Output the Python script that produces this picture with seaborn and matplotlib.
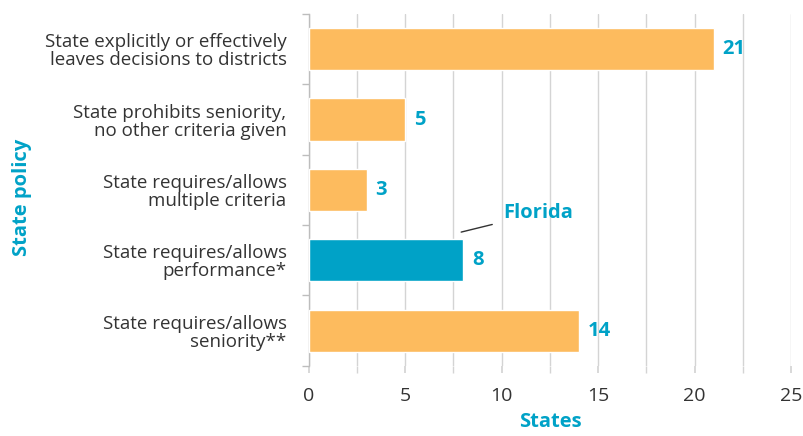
import matplotlib
matplotlib.use("Agg")
import matplotlib.pyplot as plt
import numpy as np
import pandas as pd
import seaborn as sns
from matplotlib.ticker import MultipleLocator

categories = [
    "State explicitly or effectively\nleaves decisions to districts",
    "State prohibits seniority,\nno other criteria given",
    "State requires/allows\nmultiple criteria",
    "State requires/allows\nperformance*",
    "State requires/allows\nseniority**",
]
states = [21, 5, 3, 8, 14]
highlight = [False, False, False, True, False]

ORANGE = "#FDBB5E"
BLUE = "#00A2C7"

sns.set_theme(style="white")
plt.rcParams["font.family"] = ["Open Sans", "DejaVu Sans"]

df = pd.DataFrame({"policy": categories, "states": states, "hl": highlight})
palette = [BLUE if h else ORANGE for h in highlight]

fig = plt.figure(figsize=(8.04, 4.36), dpi=100)
ax = fig.add_axes([0.384, 0.161, 0.600, 0.807])

sns.barplot(data=df, x="states", y="policy", hue="policy", palette=palette,
            legend=False, width=0.6, saturation=1, ax=ax, zorder=3)

ax.set_xlim(0, 25)
ax.xaxis.set_major_locator(MultipleLocator(5))
ax.xaxis.set_minor_locator(MultipleLocator(2.5))
ax.grid(axis="x", which="both", color="#d4d4d4", linewidth=1, zorder=0)
ax.set_axisbelow(True)

for s in ["top", "right", "bottom"]:
    ax.spines[s].set_visible(False)
ax.spines["left"].set_color("#bdbdbd")
ax.spines["left"].set_linewidth(1)

# ticks on y between categories
ax.set_yticks(np.arange(len(categories)))
ax.set_yticklabels(categories, fontsize=13.5, color="#333333",
                   linespacing=1.0, ha="right")
ax.tick_params(axis="y", length=0, pad=16)
ax.set_yticks(np.arange(-0.5, len(categories), 1), minor=True)
ax.tick_params(axis="y", which="minor", length=5, color="#bdbdbd", left=True)
ax.tick_params(axis="x", which="both", length=5, color="#d4d4d4", bottom=True,
               labelsize=14, labelcolor="#333333", pad=10)
ax.tick_params(axis="x", which="minor", labelbottom=False)

for i, v in enumerate(states):
    ax.text(v + 0.45, i, str(v), va="center", ha="left", fontsize=14.5,
            fontweight="bold", color=BLUE)

ax.annotate("Florida", xy=(7.9, 2.6), xytext=(10.1, 2.33),
            fontsize=14.5, fontweight="bold", color=BLUE, va="center",
            arrowprops=dict(arrowstyle="-", color="#333333", lw=1,
                            shrinkA=6, shrinkB=0))

ax.set_xlabel("States", fontsize=14.5, fontweight="bold", color=BLUE, labelpad=5)
ax.set_ylabel("")
fig.text(0.027, 0.548, "State policy", rotation=90, fontsize=14.5,
         fontweight="bold", color=BLUE, ha="center", va="center")

fig.savefig("out.png", dpi=100)
